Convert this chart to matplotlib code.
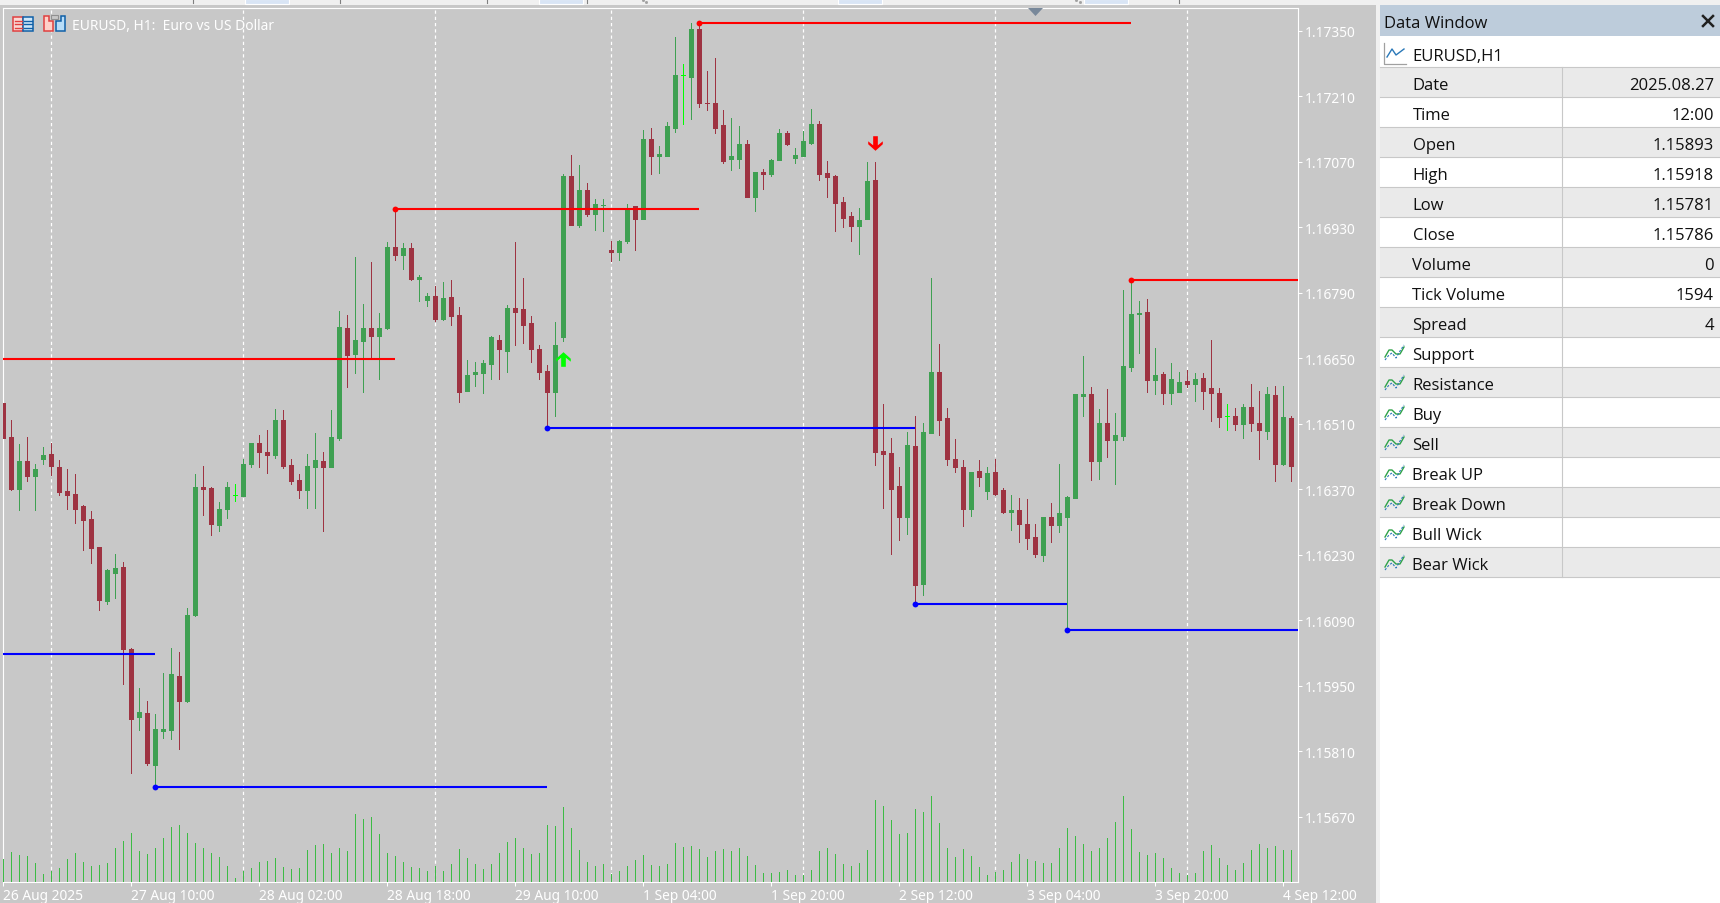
import numpy as np
import matplotlib
matplotlib.use("Agg")
import matplotlib.pyplot as plt
from matplotlib.patches import Rectangle, Polygon
from matplotlib.path import Path

# EURUSD H1 bars, prices in points (1e-5)
opens = [116554,116483,116370,116430,116398,116436,116445,116417,116366,116361,
116334,116306,116246,116131,116192,116205,116030,115883,115893,115782,
115853,115855,115972,115917,116101,116376,116374,116295,116329,116359,
116357,116425,116470,116451,116443,116519,116423,116391,116368,116419,
116430,116417,116479,116714,116660,116688,116716,116697,116716,116889,
116872,116885,116819,116774,116784,116735,116782,116742,116581,116616,
116618,116639,116690,116665,116757,116755,116725,116671,116624,116579,
116695,117039,116936,117011,116958,116977,116881,116878,116900,116975,
116949,117120,117082,117082,117143,117255,117252,117355,117197,117197,
117148,117077,117077,117109,116996,117049,117045,117075,117131,117079,
117082,117111,117150,117047,117039,116985,116955,116934,116947,117032,
116453,116447,116378,116312,116462,116167,116490,116620,116522,116436,
116419,116329,116410,116366,116408,116368,116321,116327,116297,116269,
116229,116312,116295,116312,116351,116569,116573,116430,116511,116475,
116485,116631,116744,116750,116603,116616,116577,116579,116601,116596,
116609,116586,116577,116528,116526,116509,116547,116513,116494,116571,
116425,116522]
highs = [116554,116519,116468,116481,116425,116460,116470,116432,116413,116402,
116336,116323,116248,116199,116233,116214,116032,115945,115918,115891,
115977,116032,116022,116116,116402,116421,116376,116344,116385,116381,
116434,116470,116487,116498,116541,116539,116434,116402,116445,116490,
116449,116539,116752,116742,116866,116767,116857,116748,116898,116970,
116896,116896,116829,116789,116804,116814,116817,116759,116646,116643,
116646,116697,116701,116765,116898,116821,116740,116678,116637,116727,
117045,117084,117064,117024,116990,116990,116902,116904,116981,116975,
117139,117143,117103,117156,117336,117280,117366,117368,117265,117293,
117180,117163,117146,117116,117049,117054,117077,117141,117137,117099,
117137,117184,117158,117071,117043,116994,116962,116972,117069,117069,
116552,116479,116417,116492,116528,116511,116821,116680,116543,116477,
116432,116408,116432,116417,116436,116374,116359,116351,116349,116297,
116312,116342,116425,116357,116573,116656,116588,116541,116584,116534,
116797,116817,116772,116778,116673,116622,116641,116620,116626,116618,
116618,116690,116586,116552,116545,116552,116596,116581,116590,116592,
116592,116526]
lows = [116475,116368,116327,116389,116327,116425,116400,116359,116329,116299,
116240,116212,116113,116126,116139,115955,115763,115855,115781,115735,
115838,115836,115816,115915,116099,116316,116272,116282,116308,116346,
116357,116417,116419,116406,116438,116415,116381,116351,116331,116331,
116282,116417,116475,116588,116618,116579,116654,116605,116712,116861,
116842,116817,116772,116763,116729,116733,116722,116556,116581,116592,
116577,116607,116605,116620,116678,116682,116643,116605,116502,116528,
116688,116936,116930,116955,116925,116923,116859,116861,116896,116881,
116947,117045,117047,117082,117133,117152,117161,117188,117182,117131,
117067,117052,117056,116996,116966,117013,117039,117075,117107,117067,
117082,117109,117032,116994,116923,116930,116900,116874,116947,116423,
116331,116231,116261,116274,116126,116145,116490,116487,116423,116408,
116291,116314,116378,116349,116359,116319,116284,116257,116242,116225,
116216,116257,116278,116069,116351,116526,116391,116393,116440,116381,
116475,116624,116661,116579,116575,116552,116552,116579,116588,116558,
116541,116517,116504,116498,116498,116479,116494,116434,116477,116389,
116423,116387]
closes = [116479,116370,116430,116398,116413,116443,116421,116364,116359,116329,
116304,116244,116133,116197,116203,116028,115880,115895,115786,115857,
115857,115975,115917,116101,116376,116370,116297,116329,116376,116359,
116425,116470,116449,116443,116519,116421,116389,116368,116421,116432,
116417,116481,116718,116658,116690,116716,116697,116716,116889,116872,
116885,116819,116825,116784,116735,116780,116740,116579,116614,116620,
116641,116695,116671,116757,116750,116722,116671,116622,116579,116678,
117039,116936,117011,116958,116981,116979,116878,116902,116972,116947,
117120,117082,117086,117146,117255,117255,117355,117195,117195,117143,
117073,117082,117109,116996,117049,117045,117075,117131,117109,117084,
117114,117150,117045,117037,116983,116951,116934,116945,117030,116451,
116445,116370,116312,116464,116165,116492,116620,116519,116434,116417,
116329,116408,116396,116406,116361,116321,116327,116297,116267,116231,
116312,116295,116319,116353,116573,116573,116430,116513,116475,116487,
116633,116744,116748,116603,116614,116577,116605,116599,116596,116605,
116581,116577,116524,116528,116509,116547,116511,116498,116573,116425,
116524,116421]
tick_volume = [1300,1710,1539,1482,1083,456,627,798,1311,1653,
1140,912,969,1083,1938,2337,2793,1767,1594,1938,
2508,3135,3249,2793,2223,1938,1653,1425,912,228,
627,798,1140,1197,1368,855,741,798,1824,2109,
2166,1653,1938,1767,3876,3591,3705,2736,1653,1482,
1140,855,798,627,912,627,1026,1881,1368,1026,
741,1026,1653,2280,2508,1938,1596,1653,3249,3192,
4275,3078,1824,1140,912,1026,456,627,912,1254,
1539,969,912,1026,2223,1995,2052,1881,1425,1767,
1881,1767,1938,1482,969,513,513,570,684,399,
399,684,1767,1938,1596,1026,912,1083,1824,4674,
4332,3534,2736,2793,4161,3990,4902,3363,1938,1425,
1881,1482,855,399,570,684,1140,1596,1311,1197,
1083,1083,1938,3078,2622,2166,1767,1938,2508,3420,
4902,3021,1710,1539,1653,1368,798,513,399,513,
1767,2109,1368,969,684,1083,1824,2166,1938,2052,
1824,1824]

# support / resistance levels: start bar, end bar, price
res_start = [0, 49, 87, 141]
res_end = [49, 87, 141, 162]
res_level = [116648, 116970, 117366, 116817]
sup_start = [0, 19, 68, 114, 133]
sup_end = [19, 68, 114, 133, 162]
sup_level = [116019, 115735, 116502, 116126, 116069]
buy_bar = [70]
buy_price = [116648]
sell_bar = [109]
sell_price = [117111]

price_ticks = [1.15670,1.15810,1.15950,1.16090,1.16230,1.16370,1.16510,1.16650,
               1.16790,1.16930,1.17070,1.17210,1.17350]
time_ticks = [0,16,32,48,64,80,96,112,128,144,160]
time_labels = ["26 Aug 2025","27 Aug 10:00","28 Aug 02:00","28 Aug 18:00","29 Aug 10:00",
               "1 Sep 04:00","1 Sep 20:00","2 Sep 12:00","3 Sep 04:00","3 Sep 20:00","4 Sep 12:00"]
grid_bars = [6,30,54,76,100,124,148]

row_names = ["Date","Time","Open","High","Low","Close","Volume","Tick Volume","Spread",
             "Support","Resistance","Buy","Sell","Break UP","Break Down","Bull Wick","Bear Wick"]
row_values = ["2025.08.27","12:00","1.15893","1.15918","1.15781","1.15786","0","1594","4",
              "","","","","","","",""]

W, H = 1720, 904
RED = "#9E3342"
GREEN = "#3FA052"
LIME = "#00FF00"
VOL = "#3DBB45"
GRAY = "#C8C8C8"
CHART_FONT = "Noto Sans"
PANEL_FONT = "Open Sans"
PANEL_SIZE = 12

fig = plt.figure(figsize=(W/100, H/100), dpi=100, facecolor="#F0F0F0")

def px_rect(l, t, r, b):
    return [l/W, 1-b/H, (r-l)/W, (b-t)/H]

# background layer in pixel coordinates
bg = fig.add_axes([0, 0, 1, 1], zorder=0)
bg.set_xlim(0, W)
bg.set_ylim(H, 0)
bg.axis("off")
bg.add_patch(Rectangle((0, 6), 1376, H-6, fc=GRAY, ec="none"))

# little toolbar stubs along the top edge
for xp in [193, 340, 487, 587, 1179]:
    bg.plot([xp, xp], [0, 4], color="#808080", lw=0.8)
for xp in [245, 539, 838, 1084]:
    bg.add_patch(Rectangle((xp, 0), 44, 4.5, fc="#D9E5F5", ec="white", lw=0.8))
bg.plot([1076, 1080, 643, 646], [1, 3, 1, 3], ls="none", marker="s", ms=1, color="#A0A0A0")

# data window panel
bg.add_patch(Rectangle((1380, 6), 340, H-6, fc="white", ec="none"))
bg.add_patch(Rectangle((1380, 6), 340, 31, fc="#BDCCDB", ec="none"))
bg.text(1384, 24, "Data Window", fontsize=PANEL_SIZE, family=PANEL_FONT, color="#101010", va="center")
bg.plot([1703, 1713], [17, 27], color="#202020", lw=1.8)
bg.plot([1703, 1713], [27, 17], color="#202020", lw=1.8)
bg.plot([1384, 1384, 1406], [44, 65, 65], color="#A0A0A0", lw=0.9)
bg.plot([1387, 1392, 1396, 1404], [58, 50, 56, 50], color="#2A78B8", lw=1.0)
bg.text(1412.5, 57, "EURUSD,H1", fontsize=PANEL_SIZE, family=PANEL_FONT, color="#101010", va="center")
row_top = 68
row_h = 30
for n, (name, val) in enumerate(zip(row_names, row_values)):
    y = row_top + n*row_h
    if n % 2 == 0:
        bg.add_patch(Rectangle((1380, y), 340, row_h, fc="#EAEAEA", ec="none"))
    bg.text(1412.5, y+18, name, fontsize=PANEL_SIZE, family=PANEL_FONT, color="#101010", va="center")
    bg.text(1714, y+18, val, fontsize=PANEL_SIZE, family=PANEL_FONT, color="#101010", va="center", ha="right")
    bg.plot([1380, 1720], [y+row_h, y+row_h], color=GRAY, lw=0.8)
    if n >= 9:
        xs = np.array([1385, 1389, 1392, 1396, 1400, 1404])
        bg.plot(xs, y + np.array([20, 13, 13, 17, 17, 10]), color="#2FA24A", lw=1.0)
        bg.plot(xs, y + np.array([23, 18, 16, 21, 14, 8]), color="#2A78B8", lw=0.8, ls=(0, (2, 1.5)))
bg.plot([1380, 1720], [68, 68], color=GRAY, lw=0.8)
bg.plot([1562, 1562], [68, 578], color=GRAY, lw=0.8)

# price chart
rect = px_rect(3.3, 9, 1298, 882.5)
ax = fig.add_axes(rect, zorder=1)
ax.set_facecolor("none")
x = np.arange(len(opens))
o = np.array(opens)/1e5
h = np.array(highs)/1e5
l = np.array(lows)/1e5
c = np.array(closes)/1e5

ax.set_xlim(0, (1298-3.3)/8)
ax.set_ylim(1.15532, 1.17399)

ax.vlines(grid_bars, 1.15532, 1.17399, colors="white", lw=0.9, linestyles=(0, (2.6, 2.4)), zorder=1)

colors = np.where(c == o, LIME, np.where(c > o, GREEN, RED))
ax.vlines(x, l, h, colors=colors, lw=0.6, zorder=2, antialiased=False)
bottom = np.minimum(o, c)
ax.bar(x, np.abs(c-o), bottom=bottom, width=4/8, color=colors, edgecolor=colors,
       linewidth=0.6, zorder=3, antialiased=False)

ax.hlines(np.array(res_level)/1e5, res_start, res_end, colors="#FF0000", lw=1.5, zorder=4)
ax.hlines(np.array(sup_level)/1e5, sup_start, sup_end, colors="#0000FF", lw=1.5, zorder=4)
ax.plot(res_start[1:], np.array(res_level[1:])/1e5, "o", color="#FF0000", ms=4.2, mew=0, zorder=5)
ax.plot(sup_start[1:], np.array(sup_level[1:])/1e5, "o", color="#0000FF", ms=4.2, mew=0, zorder=5)

arrow = np.array([(0,1),(1,0.1),(1,-0.3),(0.32,0.25),(0.32,-1),(-0.32,-1),
                  (-0.32,0.25),(-1,-0.3),(-1,0.1),(0,1)])
ax.plot(buy_bar, np.array(buy_price)/1e5, ls="none", marker=Path(arrow), ms=10.5,
        color=LIME, mew=0, zorder=6)
ax.plot(sell_bar, np.array(sell_price)/1e5, ls="none", marker=Path(arrow*[1, -1]), ms=10.5,
        color="#FF0000", mew=0, zorder=6)

ax.yaxis.tick_right()
ax.set_yticks(price_ticks)
ax.set_yticklabels(["%.5f" % p for p in price_ticks], fontsize=9.9, family=CHART_FONT, color="white")
ax.set_xticks(time_ticks)
ax.set_xticklabels(time_labels, fontsize=9.9, family=CHART_FONT, color="white", ha="left")
ax.tick_params(axis="both", colors="white", length=3, width=0.75, pad=1.5)
for side in ax.spines:
    ax.spines[side].set_color("white")
    ax.spines[side].set_linewidth(0.8)

# tick volume histogram, same window
vax = fig.add_axes(rect, zorder=2, sharex=ax)
vax.set_facecolor("none")
vax.set_ylim(0, 873.5*57)
vax.vlines(x, 0, tick_volume, colors=VOL, lw=0.6, antialiased=False)
vax.axis("off")

# chart header on top of everything
fg = fig.add_axes([0, 0, 1, 1], zorder=3)
fg.set_xlim(0, W)
fg.set_ylim(H, 0)
fg.axis("off")
fg.text(72, 26, "EURUSD, H1:  Euro vs US Dollar", fontsize=9.9, family=CHART_FONT, color="white", va="center")
fg.add_patch(Rectangle((12.5, 17.5), 10.5, 14, fc="#FAD8D4", ec="#E04040", lw=1.1))
fg.add_patch(Rectangle((23, 17.5), 10, 14, fc="#CFE6F8", ec="#1060A8", lw=1.1))
for yy in [21.5, 25, 28.5]:
    fg.plot([15, 22], [yy, yy], color="#E04040", lw=1)
    fg.plot([24, 32], [yy, yy], color="#1060A8", lw=1)
fg.add_patch(Polygon([(44, 17), (48.5, 17), (48.5, 22), (53, 22), (53, 32), (44, 32)], fc="#FFD0C8", ec="#E04040", lw=1.1))
fg.add_patch(Polygon([(61, 17), (65, 17), (65, 32), (56, 32), (56, 22), (61, 22)], fc="#B8DDF8", ec="#1060A8", lw=1.1))
fg.add_patch(Rectangle((51, 16), 7, 4, fc="#C8C8C8", ec="#909090", lw=0.8))
fg.add_patch(Polygon([(1028, 9), (1043, 9), (1035.5, 17)], fc="#78889A", ec="none"))

fig.savefig("out.png", dpi=100, facecolor=fig.get_facecolor())
